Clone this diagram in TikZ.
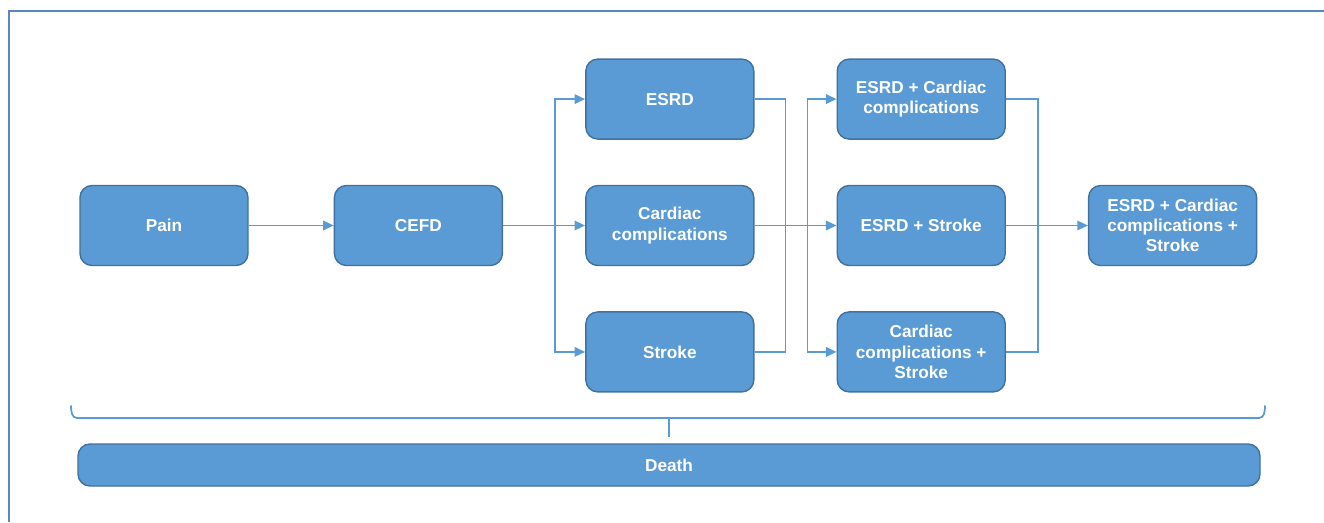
\documentclass[tikz,border=0pt]{standalone}
\usepackage{fontspec}
\setmainfont{Liberation Sans}
\usepackage{tikz}
\usetikzlibrary{arrows.meta,positioning}
\usepackage{xcolor}
\definecolor{boxfill}{HTML}{5B9BD5}
\definecolor{boxline}{HTML}{41719C}
\definecolor{linkblue}{HTML}{5B9BD5}
\definecolor{framecol}{HTML}{5A86C5}

\begin{document}
\begin{tikzpicture}[node distance=0.9cm and 1.64cm, font=\fontsize{9.8}{11.5}\selectfont\bfseries]
\tikzset{
  box/.style={rectangle, rounded corners=0.24cm, draw=boxline, line width=0.8pt, fill=boxfill, text=white, minimum width=3.36cm, minimum height=1.6cm, align=center, inner sep=2pt},
  arr/.style={-{Triangle[length=6pt, width=5.4pt]}, draw=linkblue, line width=1pt},
  lnk/.style={draw=linkblue, line width=1pt},
}
\useasboundingbox (0,0) rectangle (26.48,10.44);
\draw[framecol, line width=1.1pt] (0.18,0) -- (0.18,10.22) -- (26.48,10.22);
\node[box] (pain) at (3.28,5.93) {Pain};
\node[box, right=1.70cm of pain] (cefd) {CEFD};
\node[box, right=of cefd] (card) {Cardiac\\complications};
\node[box, above=of card] (esrd) {ESRD};
\node[box, below=of card] (strk) {Stroke};
\node[box, right=of card] (esrdstrk) {ESRD + Stroke};
\node[box, above=of esrdstrk] (esrdcard) {ESRD + Cardiac\\complications};
\node[box, below=of esrdstrk] (cardstrk) {Cardiac\\complications +\\Stroke};
\node[box, right=of esrdstrk] (all) {ESRD + Cardiac\\complications +\\Stroke};
\node[box, minimum width=23.64cm, minimum height=0.84cm] (death) at (13.38,1.14) {Death};
\coordinate (fa) at ([xshift=1.04cm]cefd.east);
\coordinate (fb) at ([xshift=1.06cm]card.east);
\draw[arr] (pain) -- (cefd);
\draw[arr] (cefd) -- (card);
\draw[arr] (fa) |- (esrd.west);
\draw[arr] (fa) |- (strk.west);
\draw[lnk] (esrd.east) -- ++(0.62,0) |- (strk.east);
\draw[arr] (card) -- (esrdstrk);
\draw[arr] (fb) |- (esrdcard.west);
\draw[arr] (fb) |- (cardstrk.west);
\draw[lnk] (esrdcard.east) -- ++(0.64,0) |- (cardstrk.east);
\draw[arr] (esrdstrk) -- (all);
\draw[lnk] (1.42,2.33) to[out=-90, in=180] (1.54,2.08) -- (25.18,2.08) to[out=0, in=-90] (25.3,2.33);
\draw[lnk] (death.north |- 0,2.08) -- ([yshift=0.12cm]death.north);
\end{tikzpicture}
\end{document}
